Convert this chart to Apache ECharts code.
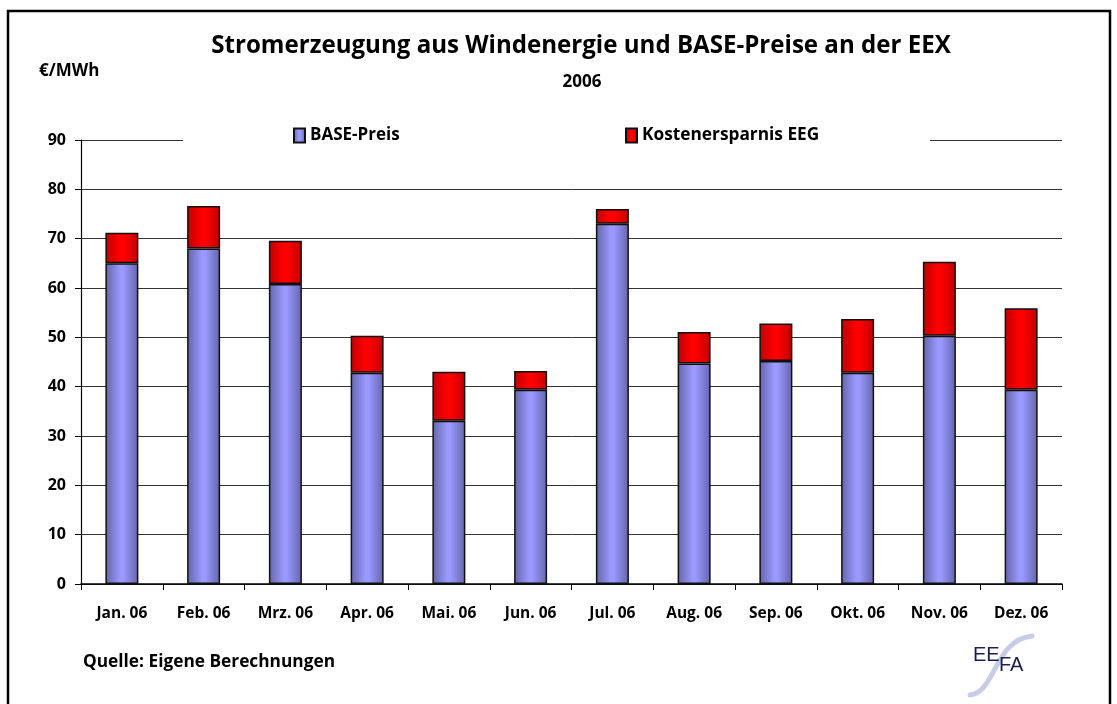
<!DOCTYPE html>
<html>
<head>
<meta charset="utf-8">
<script src="https://cdn.jsdelivr.net/npm/echarts@6/dist/echarts.min.js"></script>
<style>
html,body{margin:0;padding:0;background:#fff;}
#chart{width:1117px;height:704px;}
</style>
</head>
<body>
<div id="chart"></div>
<script>
var categories = ['Jan. 06','Feb. 06','Mrz. 06','Apr. 06','Mai. 06','Jun. 06','Jul. 06','Aug. 06','Sep. 06','Okt. 06','Nov. 06','Dez. 06'];
var basePreis = [65.0, 68.0, 60.8, 42.8, 33.1, 39.4, 73.0, 44.7, 45.2, 42.8, 50.3, 39.4];
var kostenersparnis = [6.2, 8.6, 8.8, 7.5, 9.9, 3.8, 3.0, 6.4, 7.6, 10.9, 15.0, 16.5];
var yTicks = [0, 10, 20, 30, 40, 50, 60, 70, 80, 90];

var FONT = 'Open Sans';
var chart = echarts.init(document.getElementById('chart'));

function grad(edge, mid) {
  return {type: 'linear', x: 0, y: 0, x2: 1, y2: 0, colorStops: [
    {offset: 0, color: edge},
    {offset: 0.45, color: mid},
    {offset: 0.55, color: mid},
    {offset: 1, color: edge}
  ]};
}

var option = {
  backgroundColor: '#fff',
  animation: false,
  textStyle: {fontFamily: FONT},
  title: [
    {text: 'Stromerzeugung aus Windenergie und BASE-Preise an der EEX', left: 576, textAlign: 'center', top: 29,
     textStyle: {fontFamily: FONT, fontWeight: 'bold', fontSize: 24.1, color: '#000'}},
    {text: '2006', left: 577, textAlign: 'center', top: 69,
     textStyle: {fontFamily: FONT, fontWeight: 'bold', fontSize: 17, color: '#000'}},
    {text: '€/MWh', left: 34, top: 58,
     textStyle: {fontFamily: FONT, fontWeight: 'bold', fontSize: 17, color: '#000'}},
    {text: 'Quelle: Eigene Berechnungen', left: 78, top: 649,
     textStyle: {fontFamily: FONT, fontWeight: 'bold', fontSize: 17.3, color: '#000'}}
  ],
  legend: [
    {data: ['BASE-Preis'], icon: 'rect', left: 288, top: 122, itemWidth: 11, itemHeight: 14, itemGap: 4, z: 20,
     textStyle: {fontFamily: FONT, fontWeight: 'bold', fontSize: 17, color: '#000', padding: [0, 0, 0, 0]}},
    {data: ['Kostenersparnis EEG'], icon: 'rect', left: 620, top: 122, itemWidth: 11, itemHeight: 14, itemGap: 4, z: 20,
     textStyle: {fontFamily: FONT, fontWeight: 'bold', fontSize: 17.3, color: '#000', padding: [0, 0, 0, 0]}}
  ],
  grid: {left: 81, right: 55, top: 140, bottom: 120},
  xAxis: {
    type: 'category',
    data: categories,
    axisLine: {lineStyle: {color: '#000', width: 1.5}},
    axisTick: {show: true, length: 6, lineStyle: {color: '#000'}},
    axisLabel: {margin: 22, fontFamily: FONT, fontWeight: 'bold', fontSize: 15.5, color: '#000'}
  },
  yAxis: {
    type: 'value',
    min: 0, max: 90, interval: 10,
    axisLine: {show: true, lineStyle: {color: '#000', width: 1.2}},
    axisTick: {show: true, length: 6, lineStyle: {color: '#000'}},
    axisLabel: {margin: 15, fontFamily: FONT, fontWeight: 'bold', fontSize: 16, color: '#000'},
    splitLine: {show: true, lineStyle: {color: '#333', width: 1}}
  },
  series: [
    {name: 'BASE-Preis', type: 'bar', stack: 'a', data: basePreis, barWidth: 33,
     itemStyle: {color: grad('#6464a8', '#9999ff'), borderColor: '#111', borderWidth: 1.5}},
    {name: 'Kostenersparnis EEG', type: 'bar', stack: 'a', data: kostenersparnis, barWidth: 33,
     itemStyle: {color: grad('#c00000', '#ff0000'), borderColor: '#111', borderWidth: 1.5}}
  ],
  graphic: [
    {type: 'rect', shape: {x: 8, y: 11, width: 1102, height: 700}, silent: true, z: 0,
     style: {fill: 'none', stroke: '#000', lineWidth: 2.5}},
    {type: 'rect', shape: {x: 183, y: 118, width: 747, height: 32}, silent: true, z: 1,
     style: {fill: '#fff'}},
    {type: 'bezierCurve', silent: true, z: 6,
     shape: {x1: 970, y1: 695, cpx1: 996, cpy1: 692, cpx2: 994, cpy2: 640, x2: 1032, y2: 636},
     style: {fill: 'none', stroke: '#c8cce6', lineWidth: 5, lineCap: 'round'}},
    {type: 'text', left: 973, top: 645, z: 7, silent: true,
     style: {text: 'EE', fontFamily: 'Liberation Sans', fontSize: 20, fill: '#1a1f4f'}},
    {type: 'text', left: 999, top: 655, z: 7, silent: true,
     style: {text: 'FA', fontFamily: 'Liberation Sans', fontSize: 20, fill: '#1a1f4f'}}
  ]
};
chart.setOption(option);
</script>
</body>
</html>
